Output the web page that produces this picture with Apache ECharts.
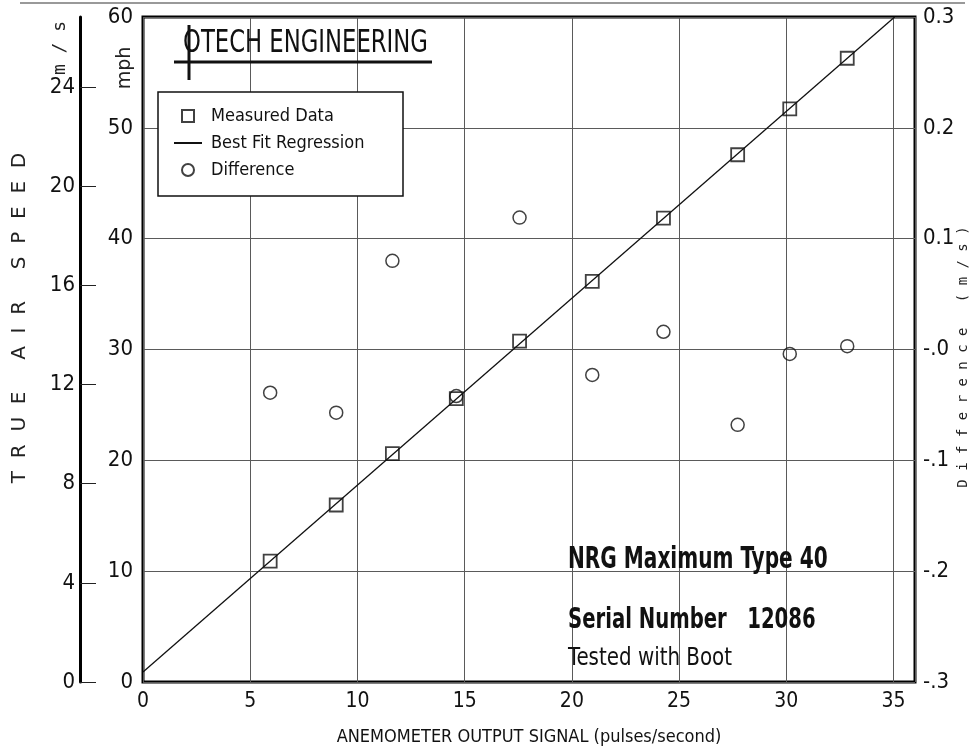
<!DOCTYPE html>
<html><head><meta charset="utf-8">
<script src="https://cdn.jsdelivr.net/npm/echarts@6/dist/echarts.min.js"></script>
<style>html,body{margin:0;padding:0;background:#fff}#c{width:974px;height:751px}</style>
</head><body><div id="c"></div>
<script>
// Data
const pulseRate = [5.93, 9.01, 11.63, 14.61, 17.56, 20.95, 24.27, 27.73, 30.16, 32.84];
const measuredMph = [10.9, 15.97, 20.6, 25.56, 30.75, 36.15, 41.86, 47.57, 51.71, 56.28];
const differenceMs = [-0.039, -0.057, 0.080, -0.042, 0.119, -0.023, 0.016, -0.068, -0.004, 0.003];
const fitLineX = [0, 35.05];
const fitLineMph = [0.9, 60];
const xTicks = [0, 5, 10, 15, 20, 25, 30, 35];
const mphTicks = [0, 10, 20, 30, 40, 50, 60];
const msTicks = [0, 4, 8, 12, 16, 20, 24];
const diffTickLabels = ['-.3', '-.2', '-.1', '-.0', '0.1', '0.2', '0.3'];
const msMax = 60 / 2.23694;

const NARROW = '"Liberation Sans Narrow", "DejaVu Sans Condensed", "Roboto Condensed", "Liberation Sans", sans-serif';
const INK = '#111';
const CLEAR = 'rgba(0,0,0,0)';

const chart = echarts.init(document.getElementById('c'), null, {renderer: 'canvas'});
const measured = pulseRate.map((x, i) => [x, measuredMph[i]]);
const diff = pulseRate.map((x, i) => [x, differenceMs[i]]);
const fit = fitLineX.map((x, i) => [x, fitLineMph[i]]);

const option = {
  backgroundColor: '#fff',
  animation: false,
  grid: {left: 143, top: 17, right: 59, bottom: 68, show: true, borderColor: '#000', borderWidth: 3, backgroundColor: 'transparent'},
  xAxis: {
    type: 'value', min: 0, max: 36, interval: 5,
    axisLine: {show: false}, axisTick: {show: false},
    splitLine: {show: true, lineStyle: {color: '#5a5a5a', width: 1}},
    axisLabel: {customValues: xTicks, color: INK, fontFamily: NARROW, fontSize: 21, margin: 9},
    name: 'ANEMOMETER OUTPUT SIGNAL (pulses/second)', nameLocation: 'middle', nameGap: 46,
    nameTextStyle: {color: INK, fontFamily: NARROW, fontSize: 18}
  },
  yAxis: [
    {
      type: 'value', min: 0, max: 60, interval: 10, position: 'left',
      axisLine: {show: false}, axisTick: {show: false},
      splitLine: {show: true, lineStyle: {color: '#5a5a5a', width: 1}},
      axisLabel: {customValues: mphTicks, color: INK, fontFamily: NARROW, fontSize: 22, margin: 10}
    },
    {
      type: 'value', min: 0, max: msMax, interval: 4, position: 'left', offset: 63,
      axisLine: {show: true, onZero: false, lineStyle: {color: '#000', width: 3}},
      axisTick: {show: true, inside: true, length: 16, customValues: msTicks, lineStyle: {color: '#222', width: 1}},
      splitLine: {show: false},
      axisLabel: {customValues: msTicks, color: INK, fontFamily: NARROW, fontSize: 22, margin: 5}
    },
    {
      type: 'value', min: -0.3, max: 0.3, interval: 0.1, position: 'right',
      axisLine: {show: false}, axisTick: {show: false}, splitLine: {show: false},
      axisLabel: {color: INK, fontFamily: NARROW, fontSize: 22, margin: 8,
        formatter: v => diffTickLabels[Math.round((v + 0.3) * 10)]}
    }
  ],
  legend: {
    left: 173, top: 106, orient: 'vertical', padding: 0, itemGap: 7, z: 20,
    itemWidth: 28, itemHeight: 12, selectedMode: false,
    textStyle: {color: INK, fontFamily: NARROW, fontSize: 18, lineHeight: 20, padding: [0, 0, 0, 4]},
    data: [
      {name: 'Measured Data', icon: 'path://M0,0L10,0L10,10L0,10Z'},
      {name: 'Best Fit Regression', itemStyle: {color: CLEAR, borderWidth: 0, opacity: 0}},
      {name: 'Difference', icon: 'circle'}
    ]
  },
  series: [
    {
      name: 'Measured Data', type: 'scatter', yAxisIndex: 0, data: measured,
      symbol: 'rect', symbolSize: 13, z: 4,
      itemStyle: {color: CLEAR, borderColor: '#111', borderWidth: 1.8}
    },
    {
      name: 'Best Fit Regression', type: 'line', yAxisIndex: 0, data: fit,
      symbol: 'none', clip: true, z: 3,
      itemStyle: {color: CLEAR, borderWidth: 0},
      lineStyle: {color: '#111', width: 1.3}
    },
    {
      name: 'Difference', type: 'scatter', yAxisIndex: 2, data: diff,
      symbol: 'circle', symbolSize: 13, z: 4,
      itemStyle: {color: CLEAR, borderColor: '#111', borderWidth: 1.5}
    }
  ],
  graphic: [
    {type: 'line', shape: {x1: 20, y1: 3, x2: 965, y2: 3}, style: {stroke: '#777', lineWidth: 1.5}},
    {type: 'rect', shape: {x: 158, y: 92, width: 245, height: 104}, style: {fill: '#fff', stroke: '#111', lineWidth: 1.5}, z: 1},
    // logo cross
    {type: 'line', shape: {x1: 189, y1: 25, x2: 189, y2: 80}, style: {stroke: '#111', lineWidth: 3}, z: 5},
    {type: 'line', shape: {x1: 174, y1: 62, x2: 432, y2: 62}, style: {stroke: '#111', lineWidth: 3}, z: 5},
    {type: 'text', x: 183, y: 44, scaleX: 0.79, z: 5,
      style: {text: 'OTECH ENGINEERING', fontFamily: NARROW, fontSize: 32, fill: INK, align: 'left', verticalAlign: 'middle'}},
    {type: 'text', x: 568, y: 560, scaleX: 0.745, z: 5,
      style: {text: 'NRG Maximum Type 40', fontFamily: NARROW, fontSize: 30, fontWeight: 'bold', fill: INK, align: 'left', verticalAlign: 'middle'}},
    {type: 'text', x: 568, y: 621, scaleX: 0.78, z: 5,
      style: {text: 'Serial Number   12086', fontFamily: NARROW, fontSize: 28, fontWeight: 'bold', fill: INK, align: 'left', verticalAlign: 'middle'}},
    {type: 'text', x: 568, y: 659, scaleX: 0.92, z: 5,
      style: {text: 'Tested with Boot', fontFamily: NARROW, fontSize: 24, fill: INK, align: 'left', verticalAlign: 'middle'}},
    // axis titles
    {type: 'text', x: 20, y: 318, rotation: Math.PI / 2, z: 5,
      style: {text: 'T  R  U  E     A  I  R     S  P  E  E  D', fontFamily: '"DejaVu Sans", sans-serif', fontSize: 20, fill: '#222', align: 'center', verticalAlign: 'middle'}},
    {type: 'text', x: 60, y: 48, rotation: Math.PI / 2, z: 5,
      style: {text: 'm / s', fontFamily: '"DejaVu Sans Mono", monospace', fontSize: 18, fill: '#222', align: 'center', verticalAlign: 'middle'}},
    {type: 'text', x: 125, y: 68, rotation: Math.PI / 2, z: 5,
      style: {text: 'mph', fontFamily: '"DejaVu Sans", sans-serif', fontSize: 19, fill: '#222', align: 'center', verticalAlign: 'middle'}},
    {type: 'text', x: 963, y: 357, rotation: Math.PI / 2, z: 5,
      style: {text: 'D i f f e r e n c e   ( m / s )', fontFamily: '"DejaVu Sans Mono", monospace', fontSize: 14, fill: '#222', align: 'center', verticalAlign: 'middle'}}
  ]
};
chart.setOption(option);
</script>
</body></html>
